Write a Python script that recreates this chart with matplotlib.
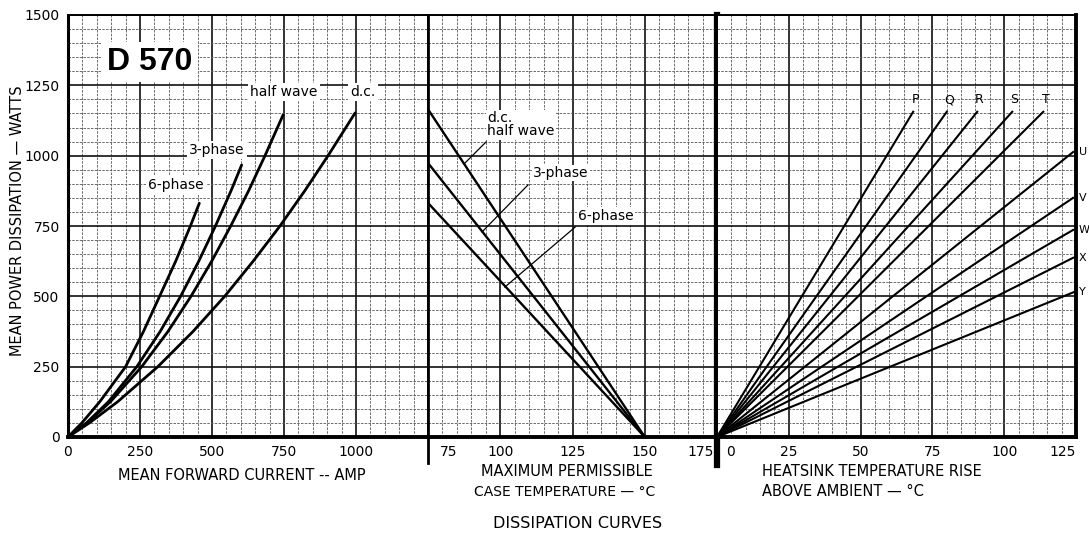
import matplotlib.pyplot as plt
import numpy as np
from matplotlib.transforms import ScaledTranslation

# mean forward current (A) vs mean power dissipation (W)
dc_amp = [0, 74, 172, 312, 434, 544, 643, 736, 822, 903, 997]
dc_watt = [0, 50, 125, 250, 375, 500, 625, 750, 875, 1000, 1152]
hw_amp = [0, 66, 147, 256, 347, 427, 499, 565, 627, 684, 747]
hw_watt = [0, 50, 125, 250, 375, 500, 625, 750, 875, 1000, 1145]
ph3_amp = [0, 64, 140, 239, 320, 391, 454, 512, 566, 603]
ph3_watt = [0, 50, 125, 250, 375, 500, 625, 750, 875, 967]
ph6_amp = [0, 48, 110, 200, 262, 318, 374, 425, 456]
ph6_watt = [0, 50, 125, 250, 375, 500, 625, 750, 831]

# max permissible case temperature (C) vs power (W)
case_temp = [75, 150]
case_dc = [1165, 0]
case_3ph = [974, 0]
case_6ph = [832, 0]

# heatsink temperature rise lines, end points (they all start at 0, 0)
hs_names = ["P", "Q", "R", "S", "T", "U", "V", "W", "X", "Y"]
hs_rise = [68.3, 80, 90.6, 102.8, 113.6, 124, 124, 124, 124, 124.5]
hs_watt = [1156, 1156, 1156, 1156, 1156, 1013, 850, 736, 637, 516]

amp_ticks = [0, 250, 500, 750, 1000]
case_ticks = [75, 100, 125, 150, 175]
rise_ticks = [0, 25, 50, 75, 100, 125]
watt_ticks = [0, 250, 500, 750, 1000, 1250, 1500]

plt.rcParams['font.family'] = ['DejaVu Sans']

fig = plt.figure(figsize=(10.89, 5.35), dpi=100)
W, H = 1089.0, 535.0
bot = (H - 437) / H
hgt = 422 / H
ax1 = fig.add_axes([68 / W, bot, 360 / W, hgt])
ax2 = fig.add_axes([428 / W, bot, 289 / W, hgt], sharey=ax1)
ax3 = fig.add_axes([717 / W, bot, 359 / W, hgt], sharey=ax1)


def grid_panel(ax, lo, hi, minor):
    ax.set_xlim(lo, hi)
    ax.set_ylim(0, 1500)
    ax.set_xticks(np.arange(lo, hi + 0.1, minor), minor=True)
    ax.set_yticks(np.arange(0, 1501, 50), minor=True)
    ax.grid(which='minor', color='#555555', lw=0.6, ls=(0, (3, 1.5)))
    ax.grid(which='major', color='#111111', lw=1.2)
    ax.set_axisbelow(True)
    ax.tick_params(which='both', length=0, labelsize=10, pad=6)
    for s in ax.spines.values():
        s.set_linewidth(1.4)
    ax.spines['bottom'].set_linewidth(2.8)


grid_panel(ax1, 0, 1250, 50)
grid_panel(ax2, 75, 175, 5)
grid_panel(ax3, 0, 125, 5)

ax1.set_yticks(watt_ticks)
ax1.set_xticks(np.arange(0, 1251, 250))
ax1.set_xticklabels([str(t) for t in amp_ticks] + [""])
ax1.spines['left'].set_linewidth(2.2)
ax2.set_xticks(case_ticks)
ax3.set_xticks(rise_ticks)
ax2.tick_params(labelleft=False)
ax3.tick_params(labelleft=False)
ax3.spines['right'].set_linewidth(2.8)

off = fig.dpi_scale_trans
lb = ax2.get_xticklabels()
lb[0].set_ha('left')
lb[0].set_transform(lb[0].get_transform() + ScaledTranslation(12 / 100, 0, off))
lb[-1].set_ha('right')
lb[-1].set_transform(lb[-1].get_transform() + ScaledTranslation(-3 / 100, 0, off))
lb = ax3.get_xticklabels()
lb[0].set_ha('left')
lb[0].set_transform(lb[0].get_transform() + ScaledTranslation(9 / 100, 0, off))
lb[-1].set_ha('right')

# left panel curves
for xs, ys in [(dc_amp, dc_watt), (hw_amp, hw_watt), (ph3_amp, ph3_watt), (ph6_amp, ph6_watt)]:
    ax1.plot(xs, ys, color='black', lw=2.0, solid_capstyle='round', solid_joinstyle='round')

lbl = dict(fontsize=10, ha='center', va='center',
           bbox=dict(facecolor='white', edgecolor='none', pad=1.5))
ax1.text(750, 1226, "half wave", **lbl)
ax1.text(1024, 1226, "d.c.", **lbl)
ax1.text(517, 1020, "3-phase", **lbl)
ax1.text(375, 896, "6-phase", **lbl)
ax1.text(285, 1333, "D 570", fontsize=23, fontweight='bold', family='Liberation Sans',
         ha='center', va='center', bbox=dict(facecolor='white', edgecolor='none', pad=4))

# middle panel derating lines
for ys in [case_dc, case_3ph, case_6ph]:
    ax2.plot(case_temp, ys, color='black', lw=1.7)

lbl2 = dict(fontsize=10, ha='left', va='center',
            bbox=dict(facecolor='white', edgecolor='none', pad=1.0))
ax2.text(95.4, 1110, "d.c.\nhalf wave", linespacing=0.95, **lbl2)
ax2.text(111.3, 938, "3-phase", **lbl2)
ax2.text(126.9, 786, "6-phase", **lbl2)
ax2.plot([95.1, 87.8], [1049, 974], color='black', lw=0.9)
ax2.plot([109.6, 93.7], [896, 729], color='black', lw=0.9)
ax2.plot([125.9, 101.6], [746, 533], color='black', lw=0.9)

# right panel heatsink lines
for name, t, w in zip(hs_names, hs_rise, hs_watt):
    ax3.plot([0, t], [0, w], color='black', lw=1.5)
    if w > 1100:
        ax3.text(t + 0.8, w + 42, name, fontsize=9, ha='center', va='center')
    else:
        ax3.text(126.0, w, name, fontsize=8, ha='left', va='center', clip_on=False)

# separators that run below the axis
ax2.plot([75, 75], [-93, 1500], color='black', lw=2.0, clip_on=False)
ax2.plot([175, 175], [-100, 1500], color='black', lw=4.5, clip_on=False)

fig.text(18 / W, 1 - 221 / H, "MEAN POWER DISSIPATION — WATTS", rotation=90,
         ha='center', va='center', fontsize=10.5)
fig.text(242 / W, 1 - 475 / H, "MEAN FORWARD CURRENT -- AMP", ha='center', va='center', fontsize=10.5)
fig.text(567 / W, 1 - 472 / H, "MAXIMUM PERMISSIBLE", ha='center', va='center', fontsize=10.5)
fig.text(565 / W, 1 - 492 / H, "CASE TEMPERATURE — °C", ha='center', va='center', fontsize=10)
fig.text(578 / W, 1 - 523 / H, "DISSIPATION CURVES", ha='center', va='center', fontsize=11.5)
fig.text(762 / W, 1 - 472 / H, "HEATSINK TEMPERATURE RISE", ha='left', va='center', fontsize=10.5)
fig.text(762 / W, 1 - 492 / H, "ABOVE AMBIENT — °C", ha='left', va='center', fontsize=10.5)

fig.savefig("out.png", dpi=100)
